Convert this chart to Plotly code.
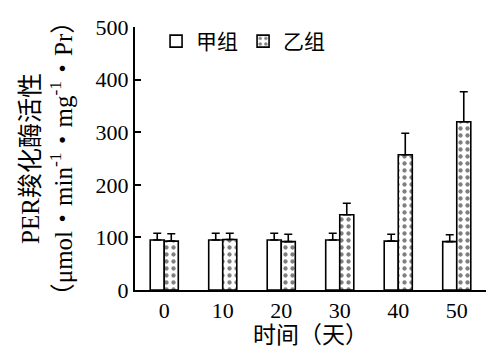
import plotly.graph_objects as go

# Days of measurement and PEP carboxylase activity for the two groups
days = ["0", "10", "20", "30", "40", "50"]
group_a = [95, 95, 95, 95, 93, 92]          # 甲组
group_a_err = [13, 13, 13, 13, 13, 13]
group_b = [93, 96, 92, 143, 257, 320]       # 乙组
group_b_err = [14, 12, 14, 22, 41, 57]
y_ticks = [0, 100, 200, 300, 400, 500]

FONT = "Liberation Serif, Noto Sans CJK SC, serif"

fig = go.Figure()

fig.add_trace(go.Bar(
    name="甲组",
    x=days, y=group_a,
    marker=dict(color="white", line=dict(color="black", width=1.6)),
    error_y=dict(type="data", symmetric=False, array=group_a_err,
                 arrayminus=[0] * len(days), color="black",
                 thickness=1.6, width=4),
))

fig.add_trace(go.Bar(
    name="乙组",
    x=days, y=group_b,
    marker=dict(color="white", line=dict(color="black", width=1.6),
                pattern=dict(shape=".", fgcolor="black", bgcolor="white",
                             size=7, solidity=0.3)),
    error_y=dict(type="data", symmetric=False, array=group_b_err,
                 arrayminus=[0] * len(days), color="black",
                 thickness=1.6, width=4),
))

fig.update_layout(
    width=486, height=352,
    margin=dict(l=135, r=0, t=27, b=62),
    paper_bgcolor="white", plot_bgcolor="white",
    barmode="group", bargap=0.52, bargroupgap=0,
    font=dict(family=FONT, color="black", size=18),
    showlegend=True,
    legend=dict(orientation="h", x=0.06, y=0.945, xanchor="left",
                yanchor="middle", bgcolor="rgba(0,0,0,0)",
                font=dict(size=21, family=FONT), itemwidth=30,
                traceorder="normal"),
    xaxis=dict(
        range=[-0.5, 5.5], showline=True, linecolor="black", linewidth=2,
        ticks="", showgrid=False, zeroline=False,
        tickfont=dict(size=22, family=FONT),
        title=dict(text="时间（天）", font=dict(size=23, family=FONT), standoff=2),
    ),
    yaxis=dict(
        range=[0, 500], tickvals=y_ticks, showline=True, linecolor="black",
        linewidth=2, ticks="inside", ticklen=6, tickwidth=2, tickcolor="black",
        showgrid=False, zeroline=False,
        tickfont=dict(size=22, family=FONT),
        title=dict(
            text="PER羧化酶活性<br>（μmol・min<sup>-1</sup>・mg<sup>-1</sup>・Pr）",
            font=dict(size=25, family=FONT), standoff=16,
        ),
    ),
)

fig.write_html("out.html")
